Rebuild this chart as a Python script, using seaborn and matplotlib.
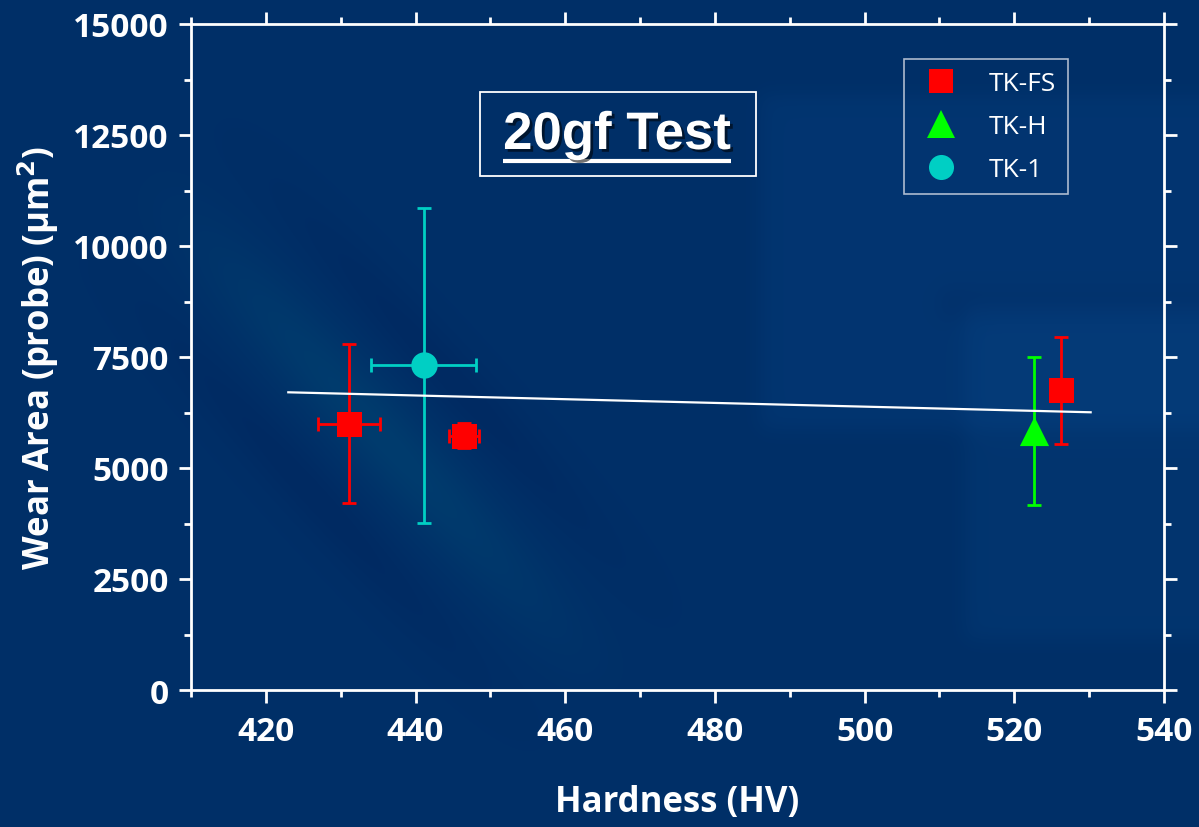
import numpy as np
import pandas as pd
import matplotlib
matplotlib.use("Agg")
import matplotlib.pyplot as plt
import matplotlib.patheffects as pe
from matplotlib.lines import Line2D
from matplotlib.patches import Rectangle
from matplotlib.ticker import MultipleLocator
import seaborn as sns

# ---- measurements -------------------------------------------------------
groups = ["TK-FS", "TK-H", "TK-1"]

fs_hv = [431.1, 446.5, 526.2]
fs_hv_err = [4.1, 2.0, 0.0]
fs_area = [6000, 5730, 6750]
fs_area_err = [1790, 290, 1210]

h_hv = [522.6]
h_hv_err = [0.0]
h_area = [5830]
h_area_err = [1665]

one_hv = [441.1]
one_hv_err = [7.0]
one_area = [7310]
one_area_err = [3555]

# linear trend over all samples
trend_hv = [423.0, 530.2]
trend_area = [6705, 6255]

x_ticks = [420, 440, 460, 480, 500, 520, 540]
y_ticks = [0, 2500, 5000, 7500, 10000, 12500, 15000]

colors = {"TK-FS": "#ff0000", "TK-H": "#00ff00", "TK-1": "#00cfc4"}
markers = {"TK-FS": "s", "TK-H": "^", "TK-1": "o"}
msize = {"TK-FS": 18, "TK-H": 21, "TK-1": 19}

df = pd.DataFrame({
    "group": ["TK-FS"] * 3 + ["TK-H"] + ["TK-1"],
    "hv": fs_hv + h_hv + one_hv,
    "hv_err": fs_hv_err + h_hv_err + one_hv_err,
    "area": fs_area + h_area + one_area,
    "area_err": fs_area_err + h_area_err + one_area_err,
})
trend = pd.DataFrame({"hv": trend_hv, "area": trend_area})

plt.rcParams["font.family"] = ["Open Sans", "DejaVu Sans"]

W, H = 1199, 828
fig = plt.figure(figsize=(W / 100, H / 100), dpi=100)

# ---- slide backdrop -----------------------------------------------------
yy, xx = np.mgrid[0:H, 0:W].astype(float)
img = np.empty((H, W, 3))
img[:] = np.array([0.0, 0.185, 0.405])


def soft_box(x0, x1, y0, y1, s=6.0):
    fx = 1 / (1 + np.exp(-(xx - x0) / s)) * 1 / (1 + np.exp((xx - x1) / s))
    fy = 1 / (1 + np.exp(-(yy - y0) / s)) * 1 / (1 + np.exp((yy - y1) / s))
    return fx * fy


img += soft_box(760, 1250, 95, 430)[..., None] * np.array([0.008, 0.022, 0.035])
img += soft_box(965, 1250, 305, 640)[..., None] * np.array([0.008, 0.022, 0.03])
img -= soft_box(940, 1250, 290, 320)[..., None] * np.array([0.0, 0.015, 0.02])

# diagonal swoosh
p0, p1 = np.array([120.0, 150.0]), np.array([640.0, 720.0])
d = p1 - p0
t = ((xx - p0[0]) * d[0] + (yy - p0[1]) * d[1]) / (d @ d)
tc = np.clip(t, 0, 1)
dist = np.hypot(xx - (p0[0] + tc * d[0]), yy - (p0[1] + tc * d[1]))
band = np.exp(-(dist / 38.0) ** 2) * np.sin(np.pi * tc) ** 1.5
img += band[..., None] * np.array([0.0, 0.05, 0.025])
band2 = np.exp(-((dist - 90) / 28.0) ** 2) * np.sin(np.pi * tc) ** 2
img -= band2[..., None] * np.array([0.0, 0.02, 0.02])
img = np.clip(img, 0, 1)

bg = fig.add_axes([0, 0, 1, 1], zorder=-10)
bg.imshow(img, aspect="auto", interpolation="bilinear")
bg.axis("off")

# ---- main axes ----------------------------------------------------------
ax = fig.add_axes([191 / W, 1 - 691 / H, (1164 - 191) / W, (691 - 25) / H])
ax.set_facecolor("none")

for g in groups:
    sub = df[df.group == g]
    ax.errorbar(sub.hv, sub.area, xerr=sub.hv_err, yerr=sub.area_err,
                fmt="none", ecolor=colors[g], elinewidth=2.0,
                capsize=4.8, capthick=2.0, zorder=2)

sns.lineplot(data=trend, x="hv", y="area", color="white", linewidth=1.6,
             ax=ax, zorder=3)

for g in groups:
    sub = df[df.group == g]
    sns.scatterplot(data=sub, x="hv", y="area", color=colors[g],
                    marker=markers[g], s=msize[g] ** 2, linewidth=0,
                    ax=ax, zorder=4, legend=False)

ax.set_xlim(410, 540)
ax.set_ylim(0, 15000)
ax.set_xticks(x_ticks)
ax.set_yticks(y_ticks)
ax.xaxis.set_minor_locator(MultipleLocator(10))
ax.yaxis.set_minor_locator(MultipleLocator(1250))

for side in ["left", "right", "top", "bottom"]:
    ax.spines[side].set_visible(True)
    ax.spines[side].set_color("white")
    ax.spines[side].set_linewidth(2.0)

ax.tick_params(which="both", direction="out", colors="white",
               top=True, right=True, labeltop=False, labelright=False)
ax.tick_params(which="major", length=9, width=2.0, pad=7,
               labelsize=24, labelcolor="white")
ax.tick_params(axis="x", which="major", pad=9)
ax.tick_params(which="minor", length=5, width=2.0)
for lab in ax.get_xticklabels() + ax.get_yticklabels():
    lab.set_fontweight("bold")

ax.set_xlabel("Hardness (HV)", fontsize=25, fontweight="bold",
              color="white", labelpad=26)
ax.set_ylabel("Wear Area (probe) (µm$^\\mathbf{2}$)", fontsize=25,
              fontweight="bold", color="white", labelpad=9)

# ---- legend -------------------------------------------------------------
handles = [Line2D([], [], linestyle="none", marker=markers[g],
                  markersize=msize[g] * 0.95, markerfacecolor=colors[g],
                  markeredgewidth=0) for g in groups]
leg = ax.legend(handles, groups, loc="upper right",
                bbox_to_anchor=((1068 - 191) / (1164 - 191), 1 - (60 - 25) / (691 - 25)),
                frameon=True, fancybox=False, fontsize=19, labelcolor="white",
                borderpad=0.45, labelspacing=0.68, handlelength=1.9,
                handletextpad=0.85, borderaxespad=0)
leg.get_frame().set_facecolor("none")
leg.get_frame().set_edgecolor("#d8dde8")
leg.get_frame().set_linewidth(1.2)

# ---- boxed title --------------------------------------------------------
fig.patches.append(Rectangle((480 / W, 1 - 177 / H), (756 - 480) / W, (177 - 93) / H,
                             transform=fig.transFigure, fill=False,
                             edgecolor="white", linewidth=1.3))
shadow = [pe.withSimplePatchShadow(offset=(2, -2), shadow_rgbFace="black", alpha=0.55)]
title = fig.text(617 / W, 1 - 136 / H, "20gf Test", fontsize=38, fontweight="bold",
                 family=["Liberation Sans", "DejaVu Sans"], color="white",
                 ha="center", va="center", path_effects=shadow)
fig.canvas.draw()
bb = title.get_window_extent(fig.canvas.get_renderer())
uy = 1 - 162 / H
fig.lines.append(Line2D([bb.x0 / W, bb.x1 / W], [uy, uy], transform=fig.transFigure,
                        color="white", linewidth=3.0, solid_capstyle="butt",
                        path_effects=shadow))

fig.savefig("out.png", dpi=100)
